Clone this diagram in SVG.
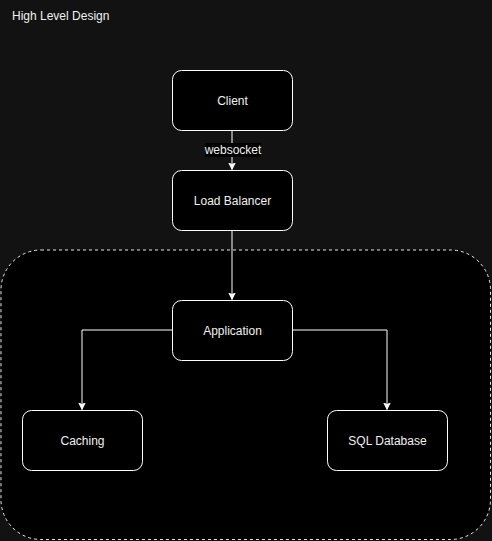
<svg xmlns="http://www.w3.org/2000/svg" width="492" height="541" viewBox="0 0 492 541">
<defs>
<style>
.node rect{fill:#000;stroke:#fff;stroke-width:1}
.lbl{font-family:"Liberation Sans",Arial,sans-serif;font-size:12px;fill:#f0f0f0;text-anchor:middle;dominant-baseline:central}
.edge{fill:none;stroke:#fff;stroke-width:1}
</style>
<marker id="arr" viewBox="0 0 10 10" refX="10" refY="5" markerWidth="7" markerHeight="8" markerUnits="userSpaceOnUse" orient="auto">
<path d="M0,0 L10,5 L0,10 L3,5 Z" fill="#fff" stroke="#fff" stroke-width="1"/>
</marker>
</defs>
<rect x="0" y="0" width="492" height="541" fill="#121212"/>
<text x="12" y="16" font-family="'Liberation Sans',Arial,sans-serif" font-size="12" fill="#f0f0f0" dominant-baseline="central">High Level Design</text>
<g id="container">
<rect x="1" y="250" width="489.5" height="289.5" rx="40" ry="40" fill="#000" stroke="#fff" stroke-width="1" stroke-dasharray="3 3" stroke-opacity="0.9"/>
</g>
<g id="edges">
<path class="edge" d="M232,130 L232,169.5" marker-end="url(#arr)"/>
<rect x="205" y="143" width="56" height="14" fill="#000"/>
<text class="lbl" x="233" y="150" font-size="11">websocket</text>
<path class="edge" d="M232,230 L232,299.5" marker-end="url(#arr)"/>
<path class="edge" d="M172,330 L82,330 L82,409.5" marker-end="url(#arr)"/>
<path class="edge" d="M292,330 L387,330 L387,409.5" marker-end="url(#arr)"/>
</g>
<g id="client" class="node"><rect x="172.5" y="70.5" width="120" height="60" rx="9"/><text class="lbl" x="232.5" y="100.5">Client</text></g>
<g id="load-balancer" class="node"><rect x="172.5" y="170.5" width="120" height="60" rx="9"/><text class="lbl" x="232.5" y="200.5">Load Balancer</text></g>
<g id="application" class="node"><rect x="172.5" y="300.5" width="120" height="60" rx="9"/><text class="lbl" x="232.5" y="330.5">Application</text></g>
<g id="caching" class="node"><rect x="22.5" y="410.5" width="120" height="60" rx="9"/><text class="lbl" x="82.5" y="440.5">Caching</text></g>
<g id="sql-database" class="node"><rect x="327.5" y="410.5" width="120" height="60" rx="9"/><text class="lbl" x="387.5" y="440.5">SQL Database</text></g>
</svg>
